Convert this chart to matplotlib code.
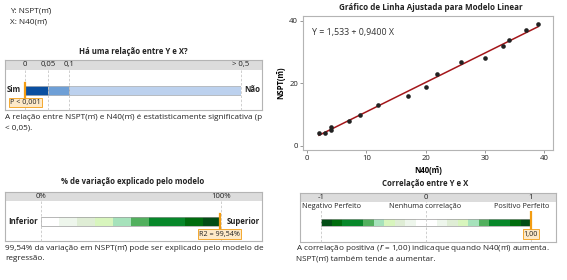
import matplotlib
matplotlib.use("Agg")
import matplotlib.pyplot as plt
from matplotlib.patches import Rectangle
import numpy as np

plt.rcParams['font.family'] = ['Open Sans', 'DejaVu Sans']

# data
x_n40 = [2, 3, 4, 4, 7, 9, 12, 17, 20, 22, 26, 30, 33, 34, 37, 39]
y_nspt = [4, 4, 5, 6, 8, 10, 13, 16, 19, 23, 27, 28, 32, 34, 37, 39]
b0, b1 = 1.533, 0.9400
p_ticks = [0, 0.05, 0.1, 0.5]
p_labels = ['0', '0,05', '0,1', '> 0,5']
p_value = 0.001
r2_pct = 99.54
r2_ticks = [0, 100]
r2_labels = ['0%', '100%']
r_value = 1.00
r_ticks = [-1, 0, 1]
r_labels = ['-1', '0', '1']
r_names = ['Negativo Perfeito', 'Nenhuma correlação', 'Positivo Perfeito']

W, H = 567, 280
fig = plt.figure(figsize=(W / 100, H / 100), dpi=100)
FS = 5.6      # titles / labels
FB = 5.9      # body text
M = 'm\u0304'
GRID = '#c8c8c8'
ORANGE = '#f39c12'


def rect(x0, y0, x1, y1):
    return [x0 / W, 1 - y1 / H, (x1 - x0) / W, (y1 - y0) / H]


def ftext(x, y, s, **kw):
    kw.setdefault('fontsize', FB)
    kw.setdefault('va', 'center')
    kw.setdefault('color', '#222222')
    fig.text(x / W, 1 - y / H, s, **kw)


def panel(x0, y0, x1, y1, head):
    ax = fig.add_axes(rect(x0, y0, x1, y1))
    ax.set_xlim(0, 1)
    ax.set_ylim(1, 0)
    ax.set_xticks([])
    ax.set_yticks([])
    for s in ax.spines.values():
        s.set_color('#b4b4b4')
        s.set_linewidth(0.8)
    ax.add_patch(Rectangle((0, 0), 1, head / (y1 - y0), color='#dcdcdc', lw=0))
    return ax


def scale_axes(x0, y0, x1, y1, lo, hi):
    ax = fig.add_axes(rect(x0, y0, x1, y1))
    ax.set_xlim(lo, hi)
    ax.set_ylim(y1 - y0, 0)
    ax.axis('off')
    ax.patch.set_alpha(0)
    return ax


# header text
ftext(10, 11, 'Y: NSPT(' + M + ')')
ftext(10, 22, 'X: N40(' + M + ')')

# ---- panel 1: p value
ftext(133, 52, 'Há uma relação entre Y e X?', ha='center', fontweight='bold', fontsize=FS)
panel(5, 60, 262, 110, 10)
ax1 = scale_axes(25, 60, 241, 110, 0, 0.5)
fwd = lambda v: np.interp(v, p_ticks, [0, 23, 44, 216])
inv = lambda v: np.interp(v, [0, 23, 44, 216], p_ticks)
ax1.set_xscale('function', functions=(fwd, inv))
ax1.set_xlim(0, 0.5)
for t, lab in zip(p_ticks, p_labels):
    ax1.plot([t, t], [10, 50], ls=(0, (3, 2)), color=GRID, lw=0.6, clip_on=False)
    ax1.text(t, 5, lab, fontsize=FS, ha='center', va='center', color='#222222')
blues = ['#0a4fa0', '#6e9fd6', '#bcd1ee']
for a, b, c in zip(p_ticks[:-1], p_ticks[1:], blues):
    ax1.barh(30.5, b - a, left=a, height=9, color=c, edgecolor='#9a9a9a', lw=0.4)
ax1.plot([p_value, p_value], [23, 38], color=ORANGE, lw=1.6, clip_on=False)
ax1.text(p_value, 42.5, 'P < 0,001', fontsize=FS - 0.4, ha='center', va='center',
         color='#222222', bbox=dict(boxstyle='square,pad=0.15', fc='#fde9c8', ec=ORANGE, lw=0.6))
ftext(7, 90, 'Sim', fontweight='bold', fontsize=FS)
ftext(260, 90, 'Não', fontweight='bold', ha='right', fontsize=FS)
ftext(5, 117, 'A relação entre NSPT(' + M + ') e N40(' + M + ') é estatisticamente significativa (p')
ftext(5, 128, '< 0,05).')

# ---- panel 3: R2
ftext(133, 182, '% de variação explicado pelo modelo', ha='center', fontweight='bold', fontsize=FS)
panel(5, 192, 262, 241, 9)
ax3 = scale_axes(41, 192, 221, 241, 0, 100)
for t, lab in zip(r2_ticks, r2_labels):
    ax3.plot([t, t], [9, 49], ls=(0, (3, 2)), color=GRID, lw=0.6, clip_on=False)
    ax3.text(t, 4.5, lab, fontsize=FS, ha='center', va='center', color='#222222')
greens = ['#ffffff', '#eef6ec', '#dfedd5', '#d8f5bd', '#a6e2bb',
          '#52b05e', '#07872a', '#07872a', '#006c0e', '#034d16']
edges = np.linspace(0, 100, len(greens) + 1)
ax3.barh(29.5, np.diff(edges), left=edges[:-1], height=9, color=greens, lw=0)
ax3.add_patch(Rectangle((0, 25), 100, 9, fill=False, ec='#9a9a9a', lw=0.5))
ax3.plot([r2_pct, r2_pct], [22, 36], color=ORANGE, lw=1.6, clip_on=False)
ax3.text(r2_pct - 0.5, 42, 'R2 = 99,54%', fontsize=FS - 0.4, ha='center', va='center',
         color='#222222', bbox=dict(boxstyle='square,pad=0.15', fc='#fde9c8', ec=ORANGE, lw=0.6))
ftext(8, 222, 'Inferior', fontweight='bold', fontsize=FS)
ftext(260, 222, 'Superior', fontweight='bold', ha='right', fontsize=FS)
ftext(5, 248, '99,54% da variação em NSPT(' + M + ') pode ser explicado pelo modelo de')
ftext(5, 259, 'regressão.')

# ---- panel 2: fitted line plot
ftext(431, 8, 'Gráfico de Linha Ajustada para Modelo Linear', ha='center', fontweight='bold',
      fontsize=5.8)
ax2 = fig.add_axes(rect(303, 16, 553, 150))
ax2.scatter(x_n40, y_nspt, s=11, color='#222222', zorder=3, lw=0)
xf = np.array([min(x_n40), max(x_n40)])
ax2.plot(xf, b0 + b1 * xf, color='#a4161a', lw=1.1, zorder=2)
ax2.set_xlim(-0.7, 41.5)
ax2.set_ylim(-1.3, 41.6)
ax2.set_xticks([0, 10, 20, 30, 40])
ax2.set_yticks([0, 20, 40])
ax2.tick_params(labelsize=FS, length=2, width=0.6, color='#888888', pad=1.5, labelcolor='#222222')
for s in ax2.spines.values():
    s.set_color('#b4b4b4')
    s.set_linewidth(0.8)
ax2.text(0.035, 0.875, 'Y = 1,533 + 0,9400 X', transform=ax2.transAxes, fontsize=6.4,
         va='center', color='#333333')
ax2.set_xlabel('N40(' + M + ')', fontsize=FS, fontweight='bold', labelpad=3)
ax2.set_ylabel('NSPT(' + M + ')', fontsize=FS, fontweight='bold', labelpad=3)

# ---- panel 4: correlation
ftext(425, 184, 'Correlação entre Y e X', ha='center', fontweight='bold', fontsize=FS)
panel(300, 193, 556, 242, 9)
ax4 = scale_axes(321, 193, 531, 242, -1, 1)
for t, lab in zip(r_ticks, r_labels):
    ax4.plot([t, t], [9, 49], ls=(0, (3, 2)), color=GRID, lw=0.6, clip_on=False)
    ax4.text(t, 4.5, lab, fontsize=FS, ha='center', va='center', color='#222222')
for nm, xx, ha in zip(r_names, [302, 425, 549], ['left', 'center', 'right']):
    ftext(xx, 207, nm, ha=ha, fontsize=5.2,
          bbox=dict(boxstyle='square,pad=0.05', fc='white', ec='none'))
greens_r = greens[::-1] + greens
edges_r = np.linspace(-1, 1, len(greens_r) + 1)
ax4.barh(29.5, np.diff(edges_r), left=edges_r[:-1], height=7, color=greens_r, lw=0)
ax4.add_patch(Rectangle((-1, 26), 2, 7, fill=False, ec='#9a9a9a', lw=0.5))
ax4.plot([r_value, r_value], [19, 39], color=ORANGE, lw=1.6, clip_on=False)
ax4.text(r_value, 41, '1,00', fontsize=FS - 0.4, ha='center', va='center', color='#222222',
         bbox=dict(boxstyle='square,pad=0.15', fc='#fde9c8', ec=ORANGE, lw=0.6))
ftext(296, 248, 'A correlação positiva ($\\it{r}$ = 1,00) indicaque quando N40(' + M + ') aumenta.')
ftext(296, 259, 'NSPT(' + M + ') também tende a aumentar.')

fig.savefig('out.png', dpi=100)
